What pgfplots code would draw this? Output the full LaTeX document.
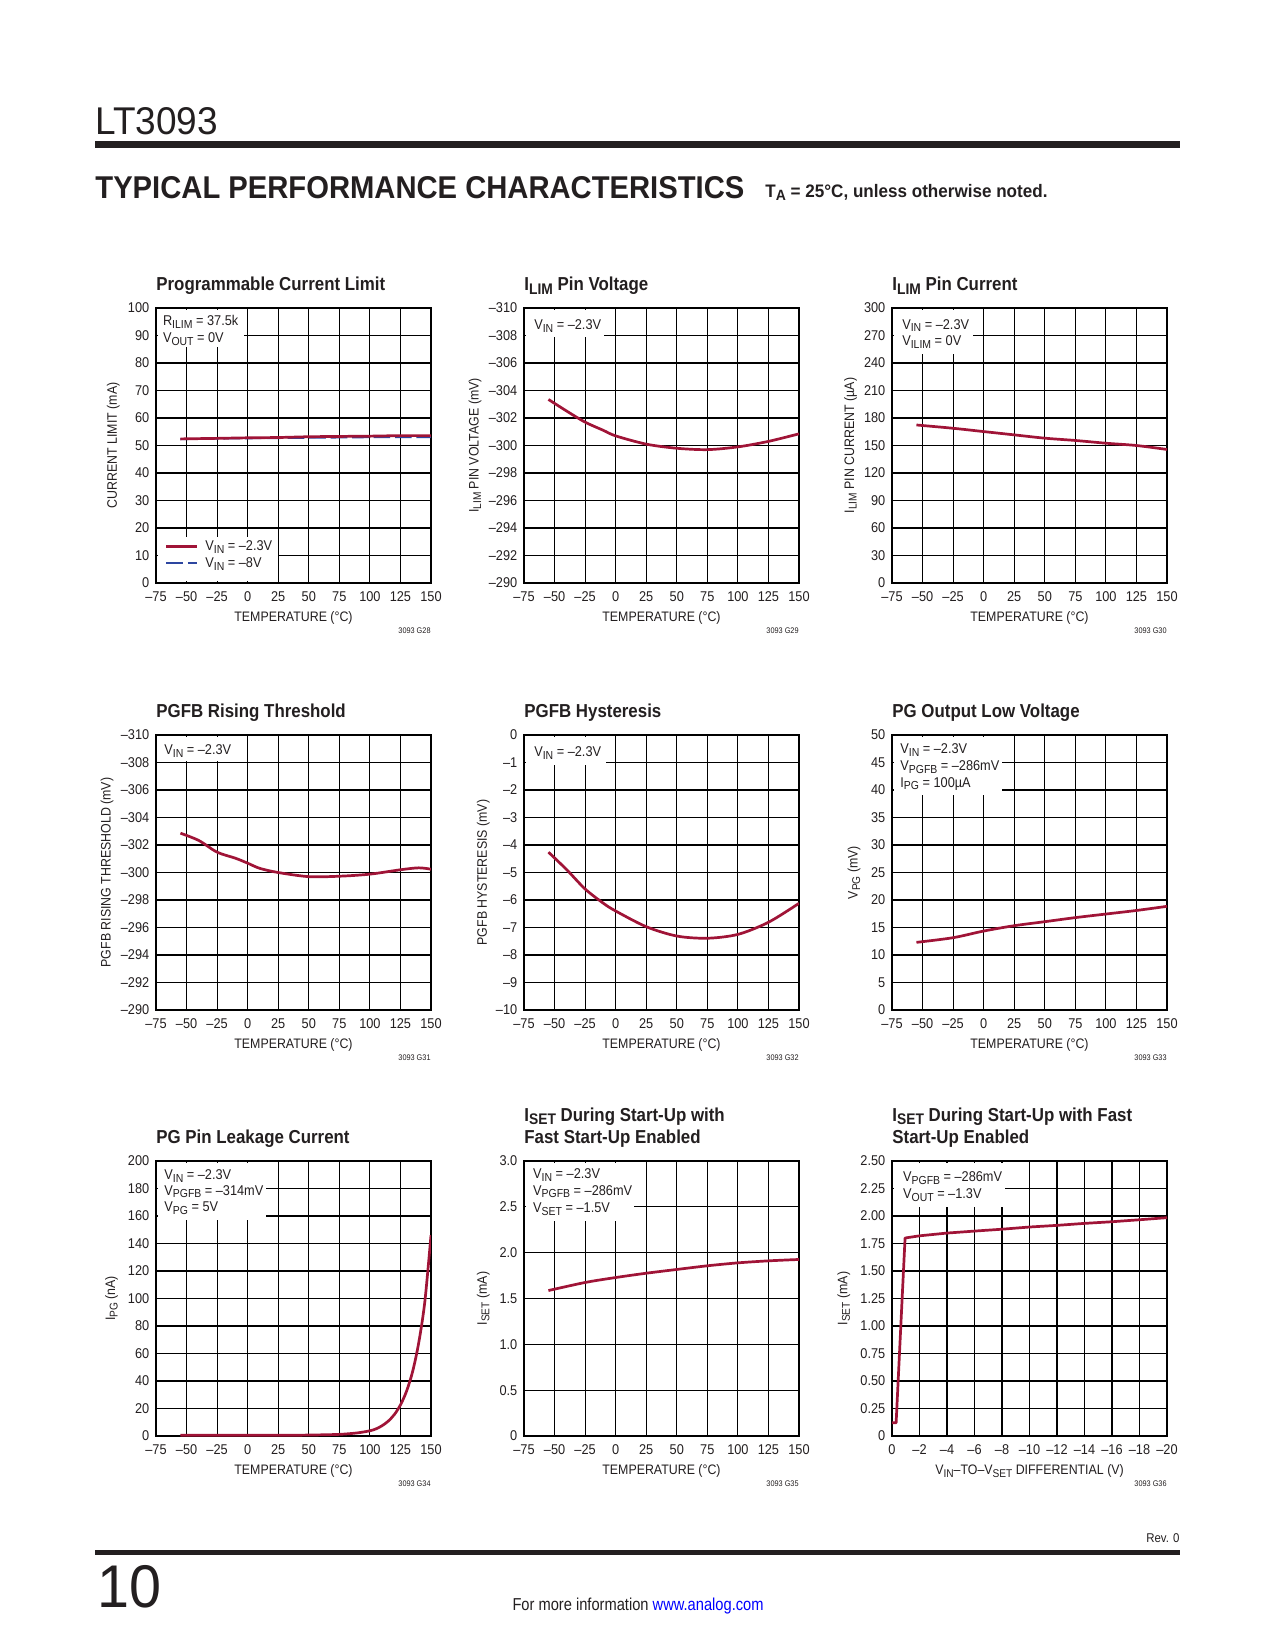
\documentclass[border=0pt]{standalone}
\usepackage{fontspec}
\setmainfont{Liberation Sans}[FakeStretch=0.9]
\usepackage{graphicx}
\usepackage{xcolor}
\usepackage{pgfplots}
\pgfplotsset{compat=1.18}
\definecolor{dred}{RGB}{160,20,55}
\definecolor{dblue}{RGB}{45,70,160}
\definecolor{txt}{RGB}{35,31,32}
\newcommand{\sub}[1]{\raisebox{-0.35ex}{\scalebox{0.82}{#1}}}
\newcommand{\annfont}{\fontsize{6.8}{8}\selectfont}
\newcommand{\wbox}[2]{\fill[white] (axis description cs:0.006,0.994) rectangle (axis description cs:#1,#2);}
\newcommand{\aline}[3]{\node[anchor=base west,inner sep=0pt,font=\annfont,text=txt] at (axis description cs:#1,#2) {#3};}
\newcommand{\ptitle}[2]{\node[anchor=base west,inner sep=0pt,font=\bfseries\fontsize{9}{11}\selectfont,text=txt,yshift=#1] at (axis description cs:0,1) {#2};}
\newcommand{\gnum}[1]{\node[anchor=base east,inner sep=0pt,font=\fontsize{3.9}{4}\selectfont,text=txt,yshift=-24.3pt] at (axis description cs:1,0) {#1};}
\pgfplotsset{
 ds/.style={
  scale only axis, width=132pt, height=132pt, anchor=south west,
  clip mode=individual,
  axis line style={line width=0.9pt,black},
  grid=major, major grid style={line width=0.5pt,black},
  major tick length=0pt, tick style={draw=none},
  /pgf/number format/assume math mode=true,
  tick label style={font=\fontsize{6.8}{8}\selectfont, text=txt},
  xticklabel style={anchor=base, yshift=-8.9pt},
  yticklabel style={anchor=east, xshift=0.3pt},
  label style={font=\fontsize{6.6}{8}\selectfont, text=txt},
  xlabel style={at={(axis description cs:0.5,0)}, anchor=base, yshift=-18.5pt},
 },
 cv/.style={dred, line width=1.3pt, line join=round, no markers},
 tx/.style={xmin=-75,xmax=150,xtick={-75,-50,...,150},
   xticklabels={–75,–50,–25,0,25,50,75,100,125,150}, xlabel={TEMPERATURE (°C)}},
 ylab/.style={ylabel style={at={(axis description cs:-#1,0.5)}, anchor=center}},
}
\begin{document}
\begin{tikzpicture}
\fill[white] (0pt,0pt) rectangle (612pt,-792pt);
% header
\node[anchor=base west,inner sep=0pt,text=txt] at (45.6pt,-64.46pt) {\resizebox{58.9pt}{12.96pt}{LT3093}};
\fill[txt] (45.6pt,-67.5pt) rectangle (566.4pt,-70.9pt);
\node[anchor=base west,inner sep=0pt,text=txt] at (45.6pt,-95.04pt) {\resizebox{311.5pt}{10.56pt}{\bfseries TYPICAL PERFORMANCE CHARACTERISTICS}};
\node[anchor=base west,inner sep=0pt,text=txt] at (367.2pt,-94.6pt) {\resizebox{135.4pt}{6.3pt}{\bfseries T\sub{A} = 25°C, unless otherwise noted.}};
% footer
\node[anchor=base east,inner sep=0pt,font=\fontsize{6.1}{7}\selectfont,text=txt] at (566.4pt,-740.2pt) {Rev. 0};
\fill[txt] (45.6pt,-743.8pt) rectangle (566.4pt,-746.5pt);
\node[anchor=base west,inner sep=0pt,text=txt] at (46.6pt,-771.4pt) {\resizebox{30.7pt}{20.2pt}{10}};
\node[anchor=base west,inner sep=0pt,text=txt] at (245.8pt,-773.1pt) {\resizebox{120.5pt}{6pt}{For more information \textcolor{blue}{www.analog.com}}};

% ---------- Plot 1
\begin{axis}[ds,tx,at={(74.88pt,-279.84pt)},
  ymin=0,ymax=100,ytick={0,10,...,100},yticklabels={0,10,20,30,40,50,60,70,80,90,100},
  ylabel={CURRENT LIMIT (mA)},ylab=0.155]
\addplot[dblue,line width=0.9pt,dash pattern=on 8pt off 2.3pt,no markers] coordinates {(-55,52.3) (-25,52.5) (0,52.6) (25,52.7) (50,52.8) (75,52.9) (100,53.0) (125,53.0) (150,53.0)};
\addplot[cv] coordinates {(-55,52.4) (-25,52.6) (0,52.8) (25,52.9) (50,53.2) (75,53.3) (100,53.4) (125,53.6) (150,53.6)};
\wbox{0.32}{0.858}
\aline{0.024}{0.935}{R\sub{ILIM} = 37.5k}
\aline{0.024}{0.875}{V\sub{OUT} = 0V}
\fill[white] (axis description cs:0.006,0.006) rectangle (axis description cs:0.442,0.166);
\draw[dred,line width=1.3pt] (axis description cs:0.0375,0.134) -- (axis description cs:0.150,0.134);
\draw[dblue,line width=0.9pt,dash pattern=on 8pt off 2.3pt] (axis description cs:0.0375,0.073) -- (axis description cs:0.150,0.073);
\aline{0.178}{0.1165}{V\sub{IN} = –2.3V}
\aline{0.178}{0.0555}{V\sub{IN} = –8V}
\ptitle{8.2pt}{Programmable Current Limit}
\gnum{3093 G28}
\end{axis}

% ---------- Plot 2
\begin{axis}[ds,tx,at={(251.52pt,-279.84pt)}, y dir=reverse,
  ymin=-310,ymax=-290,ytick={-310,-308,...,-290},
  yticklabels={–310,–308,–306,–304,–302,–300,–298,–296,–294,–292,–290},
  ylabel={I\sub{LIM} PIN VOLTAGE (mV)},ylab=0.178]
\addplot[cv,smooth] coordinates {(-55,-303.35) (-40,-302.5) (-25,-301.7) (-10,-301.1) (0,-300.7) (25,-300.1) (50,-299.8) (75,-299.7) (100,-299.9) (125,-300.3) (150,-300.85)};
\wbox{0.291}{0.895}
\aline{0.036}{0.922}{V\sub{IN} = –2.3V}
\ptitle{8.2pt}{I\sub{LIM} Pin Voltage}
\gnum{3093 G29}
\end{axis}

% ---------- Plot 3
\begin{axis}[ds,tx,at={(428.16pt,-279.84pt)},
  ymin=0,ymax=300,ytick={0,30,...,300},yticklabels={0,30,60,90,120,150,180,210,240,270,300},
  ylabel={I\sub{LIM} PIN CURRENT (µA)},ylab=0.151]
\addplot[cv,smooth] coordinates {(-55,172.4) (-25,168.8) (0,165.2) (25,161.6) (50,158) (75,155.5) (100,152.5) (125,150) (150,145.7)};
\wbox{0.295}{0.833}
\aline{0.036}{0.923}{V\sub{IN} = –2.3V}
\aline{0.036}{0.863}{V\sub{ILIM} = 0V}
\ptitle{8.2pt}{I\sub{LIM} Pin Current}
\gnum{3093 G30}
\end{axis}

% ---------- Plot 4
\begin{axis}[ds,tx,at={(74.88pt,-484.8pt)}, y dir=reverse,
  ymin=-310,ymax=-290,ytick={-310,-308,...,-290},
  yticklabels={–310,–308,–306,–304,–302,–300,–298,–296,–294,–292,–290},
  ylabel={PGFB RISING THRESHOLD (mV)},ylab=0.178]
\addplot[cv,smooth] coordinates {(-55,-302.86) (-40,-302.33) (-25,-301.48) (-10,-301.04) (0,-300.68) (10,-300.3) (25,-300.0) (50,-299.7) (75,-299.73) (100,-299.88) (125,-300.2) (140,-300.34) (150,-300.24)};
\wbox{0.283}{0.905}
\aline{0.029}{0.929}{V\sub{IN} = –2.3V}
\ptitle{8.6pt}{PGFB Rising Threshold}
\gnum{3093 G31}
\end{axis}

% ---------- Plot 5
\begin{axis}[ds,tx,at={(251.52pt,-484.8pt)},
  ymin=-10,ymax=0,ytick={-10,-9,...,0},
  yticklabels={–10,–9,–8,–7,–6,–5,–4,–3,–2,–1,0},
  ylabel={PGFB HYSTERESIS (mV)},ylab=0.148]
\addplot[cv,smooth] coordinates {(-55,-4.26) (-40,-4.9) (-25,-5.6) (-10,-6.12) (0,-6.4) (25,-6.97) (50,-7.31) (75,-7.39) (100,-7.25) (125,-6.81) (150,-6.12)};
\wbox{0.297}{0.891}
\aline{0.036}{0.921}{V\sub{IN} = –2.3V}
\ptitle{8.6pt}{PGFB Hysteresis}
\gnum{3093 G32}
\end{axis}

% ---------- Plot 6
\begin{axis}[ds,tx,at={(428.16pt,-484.8pt)},
  ymin=0,ymax=50,ytick={0,5,...,50},yticklabels={0,5,10,15,20,25,30,35,40,45,50},
  ylabel={V\sub{PG} (mV)},ylab=0.138]
\addplot[cv,smooth] coordinates {(-55,12.3) (-25,13.15) (0,14.36) (25,15.33) (50,16.06) (75,16.8) (100,17.45) (125,18.1) (150,18.85)};
\wbox{0.40}{0.782}
\aline{0.029}{0.932}{V\sub{IN} = –2.3V}
\aline{0.029}{0.871}{V\sub{PGFB} = –286mV}
\aline{0.029}{0.810}{I\sub{PG} = 100µA}
\ptitle{8.2pt}{PG Output Low Voltage}
\gnum{3093 G33}
\end{axis}

% ---------- Plot 7
\begin{axis}[ds,tx,at={(74.88pt,-689.28pt)},
  ymin=0,ymax=200,ytick={0,20,...,200},yticklabels={0,20,40,60,80,100,120,140,160,180,200},
  ylabel={I\sub{PG} (nA)},ylab=0.162]
\addplot[cv,smooth] coordinates {(-55,0.5) (0,0.5) (25,0.5) (50,0.7) (75,1.2) (90,2.3) (100,3.8) (105,5.2) (110,7.5) (115,10.8) (120,15.6) (125,22.6) (130,32.6) (135,47) (140,68) (145,98) (150,146)};
\wbox{0.40}{0.785}
\aline{0.029}{0.933}{V\sub{IN} = –2.3V}
\aline{0.029}{0.876}{V\sub{PGFB} = –314mV}
\aline{0.029}{0.815}{V\sub{PG} = 5V}
\ptitle{8.2pt}{PG Pin Leakage Current}
\gnum{3093 G34}
\end{axis}

% ---------- Plot 8
\begin{axis}[ds,tx,at={(251.52pt,-689.28pt)},
  ymin=0,ymax=3,ytick={0,0.5,1,1.5,2,2.5,3},yticklabels={0,0.5,1.0,1.5,2.0,2.5,3.0},
  ylabel={I\sub{SET} (mA)},ylab=0.148]
\addplot[cv,smooth] coordinates {(-55,1.587) (-25,1.675) (0,1.729) (25,1.776) (50,1.817) (75,1.857) (100,1.889) (125,1.911) (150,1.926)};
\wbox{0.40}{0.782}
\aline{0.032}{0.936}{V\sub{IN} = –2.3V}
\aline{0.032}{0.876}{V\sub{PGFB} = –286mV}
\aline{0.032}{0.812}{V\sub{SET} = –1.5V}
\ptitle{19pt}{I\sub{SET} During Start-Up with}
\ptitle{8.2pt}{Fast Start-Up Enabled}
\gnum{3093 G35}
\end{axis}

% ---------- Plot 9
\begin{axis}[ds,at={(428.16pt,-689.28pt)}, x dir=reverse,
  xmin=-20,xmax=0,xtick={-20,-18,...,0},
  xticklabels={–20,–18,–16,–14,–12,–10,–8,–6,–4,–2,0},
  xlabel={V\sub{IN}–TO–V\sub{SET} DIFFERENTIAL (V)},
  ymin=0,ymax=2.5,ytick={0,0.25,0.5,0.75,1,1.25,1.5,1.75,2,2.25,2.5},
  yticklabels={0,0.25,0.50,0.75,1.00,1.25,1.50,1.75,2.00,2.25,2.50},
  ylabel={I\sub{SET} (mA)},ylab=0.175]
\addplot[cv] coordinates {(0,0.12) (-0.3,0.12) (-0.95,1.80) (-2,1.82) (-4,1.845) (-6,1.863) (-8,1.88) (-10,1.90) (-12,1.915) (-14,1.933) (-16,1.948) (-18,1.966) (-20,1.985)};
\wbox{0.411}{0.833}
\aline{0.039}{0.924}{V\sub{PGFB} = –286mV}
\aline{0.039}{0.863}{V\sub{OUT} = –1.3V}
\ptitle{19pt}{I\sub{SET} During Start-Up with Fast}
\ptitle{8.2pt}{Start-Up Enabled}
\gnum{3093 G36}
\end{axis}
\end{tikzpicture}
\end{document}
